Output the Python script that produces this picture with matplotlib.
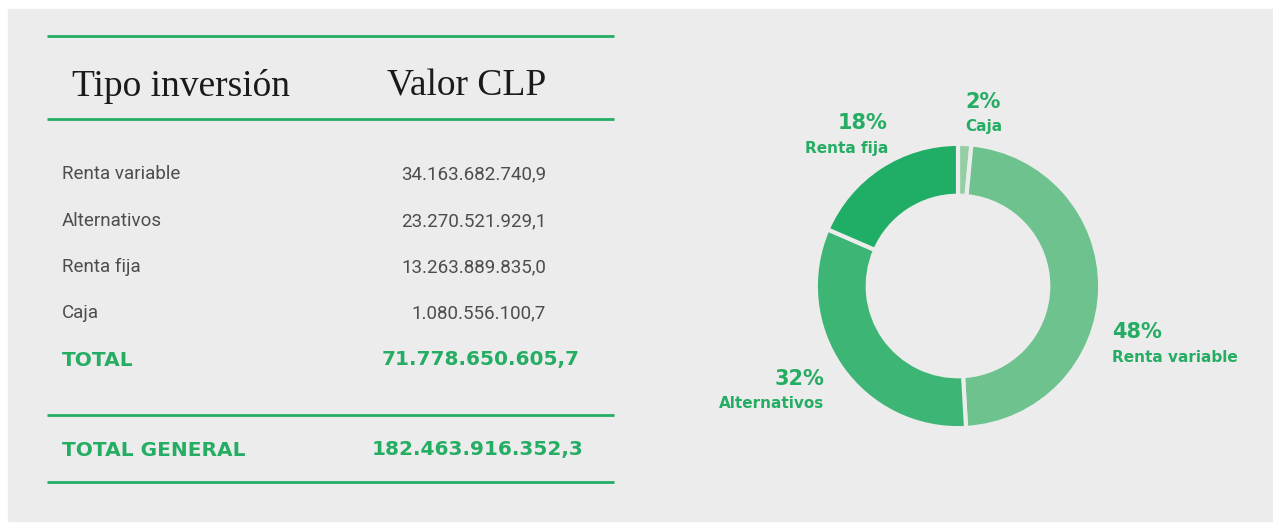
import matplotlib.pyplot as plt
from matplotlib.patches import Rectangle

# table data
tipos = ['Renta variable', 'Alternativos', 'Renta fija', 'Caja']
valores = [34163682740.9, 23270521929.1, 13263889835.0, 1080556100.7]
total_general = 182463916352.3

# donut order (clockwise from top)
pie_order = ['Caja', 'Renta variable', 'Alternativos', 'Renta fija']
pie_colors = {'Caja': '#93cfa3', 'Renta variable': '#6dc28e',
              'Alternativos': '#3db574', 'Renta fija': '#20ae66'}

GREEN = '#24ad63'
TXT = '#4d4d4d'
BG = '#ececec'
W, H = 1273, 524


def fmt(v):
    s = f"{v:,.1f}"
    return s.replace(',', 'X').replace('.', ',').replace('X', '.')


fig = plt.figure(figsize=(W / 100, H / 100), dpi=100)
fig.patch.set_facecolor('white')
ax = fig.add_axes([0, 0, 1, 1])
ax.set_xlim(0, W)
ax.set_ylim(H, 0)
ax.axis('off')
ax.add_patch(Rectangle((8, 9), W - 8, H - 12, color=BG, zorder=0))

# table lines
for y in [36, 119, 415, 482]:
    ax.plot([47, 614], [y, y], color=GREEN, lw=2, solid_capstyle='butt')

hdr = dict(family='Liberation Serif', fontsize=27, color='#1a1a1a', va='baseline')
ax.text(181, 96, 'Tipo inversión', ha='center', **hdr)
ax.text(467, 96, 'Valor CLP', ha='center', **hdr)

row_y = [174, 221, 267, 313]
for t, v, y in zip(tipos, valores, row_y):
    ax.text(62, y, t, family='Roboto', fontsize=13.5,
            color=TXT, va='center', ha='left')
    ax.text(546, y, fmt(v), family='Roboto', fontsize=13.5,
            color=TXT, va='center', ha='right')

tot = dict(family='DejaVu Sans', fontweight='bold', fontsize=14.5, color=GREEN, va='center')
ax.text(62, 360, 'TOTAL', ha='left', **tot)
ax.text(580, 360, fmt(sum(valores)), ha='right', **tot)
ax.text(62, 450, 'TOTAL GENERAL', ha='left', **tot)
ax.text(584, 450, fmt(total_general), ha='right', **tot)

# donut
cx, cy, r = 958, 286, 145
pax = fig.add_axes([(cx - r) / W, 1 - (cy + r) / H, 2 * r / W, 2 * r / H])
pie_vals = [valores[tipos.index(k)] for k in pie_order]
pax.pie(pie_vals, colors=[pie_colors[k] for k in pie_order], startangle=90,
        counterclock=False, radius=1,
        wedgeprops=dict(width=0.365, edgecolor=BG, linewidth=3))
pax.set_xlim(-1.02, 1.02)
pax.set_ylim(-1.02, 1.02)
pax.set_aspect('equal')
pax.axis('off')

total = sum(valores)
pct = {k: round(100 * valores[tipos.index(k)] / total) for k in pie_order}
# label anchors (pixels): (x, y of pct, alignment)
lab_pos = {'Caja': (965, 102, 'left'), 'Renta fija': (888, 123, 'right'),
           'Renta variable': (1112, 332, 'left'), 'Alternativos': (824, 379, 'right')}
for k, (x, y, ha) in lab_pos.items():
    ax.text(x, y, f"{pct[k]}%", family='DejaVu Sans', fontweight='bold',
            fontsize=15, color=GREEN, ha=ha, va='center')
    ax.text(x, y + 25, k, family='DejaVu Sans', fontweight='bold',
            fontsize=11, color=GREEN, ha=ha, va='center')

fig.savefig('out.png', dpi=100, facecolor=fig.get_facecolor())
